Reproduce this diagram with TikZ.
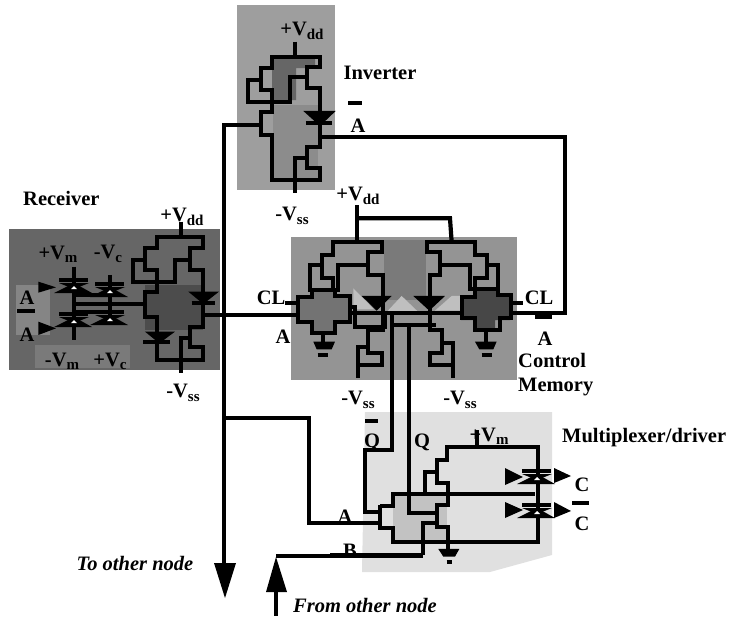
\documentclass[tikz,border=0pt]{standalone}
\usepackage{fontspec}
\setmainfont{Liberation Serif}
\newcommand{\vsub}[2]{\textbf{#1V\raisebox{-.35ex}{\fontsize{15}{15}\selectfont #2}}}
\newcommand{\tgate}[2]{%
  \fill[black] (#1-15,#2+3) -- (#1+15,#2+3) -- (#1,#2+9) -- cycle;
  \fill[black] (#1-20,#2+13) -- (#1+18,#2+13) -- (#1,#2+3) -- cycle;
  \fill[white] (#1-3,#2+9) -- (#1+3,#2+9) -- (#1,#2+6) -- cycle;
  \draw[bar] (#1-15,#2) -- (#1+14,#2);}
\tikzset{
  wire/.style={line width=4.2pt,miter limit=10},
  bus/.style={line width=4.5pt},
  bar/.style={line width=4pt},
  lab/.style={font=\fontsize{20.5}{22}\selectfont\bfseries,inner sep=0pt,text=black},
  labit/.style={font=\fontsize{20.5}{22}\selectfont\bfseries\itshape,inner sep=0pt},
  tip/.style={fill=black}
}
\begin{document}
\begin{tikzpicture}[x=1pt,y=-1pt]
\useasboundingbox (0,0) rectangle (733,618);
% backgrounds
\fill[black!38] (237,5) rectangle (335,190);
\fill[black!60] (272,59) -- (315,59) -- (315,68) -- (296,68) -- (296,100) -- (272,100) -- cycle;
\fill[black!45] (273,105) rectangle (318,180);
\fill[black!60] (9,229) rectangle (220,370);
\fill[black!48] (16,285) -- (50,285) -- (50,335) -- (16,335) -- cycle;
\fill[black!52] (35,345) rectangle (130,368);
\fill[black!70] (145,285) rectangle (203,330);
\fill[black!42] (291,237) rectangle (517,380);
\fill[black!52] (384,240) rectangle (426,300);
\fill[black!12] (365,412) -- (552,412) -- (552,555) -- (490,572) -- (362,572) -- cycle;
\fill[black!24] (393,495) rectangle (447,541);
% control interior patches
\fill[black!55] (300,297) -- (312,297) -- (312,290) -- (333,290) -- (333,297) -- (349,297) -- (349,322) -- (335,322) -- (335,333) -- (312,333) -- (312,322) -- (298,322) -- cycle;
\fill[black!72] (461,297) -- (476,297) -- (476,288) -- (497,288) -- (497,297) -- (510,297) -- (510,320) -- (495,320) -- (495,331) -- (475,331) -- (475,320) -- (461,320) -- cycle;
\begin{scope}[shift={(270,190)},x=.3333pt,y=-.3333pt]
\fill[black!25] (395,318) -- (350,366) -- (445,366) -- cycle;
\fill[black!25] (545,318) -- (495,362) -- (572,362) -- (572,318) -- cycle;
\fill[black!25] (250,295) -- (312,358) -- (250,358) -- cycle;
\end{scope}
% labels under wires
\node[lab] (lvddtop) at (302,31) {\vsub{+}{dd}};
\node[lab] (linv) at (380,73) {Inverter};
\node[lab] (lavtop) at (358,126) {A};
\node[lab] (lvss1) at (292,216) {\vsub{-}{ss}};
\node[lab] (lvdd2) at (358,196) {\vsub{+}{dd}};
\node[lab,anchor=west] (lrec) at (23,198) {Receiver};
\node[lab] (lvdd3) at (182,217) {\vsub{+}{dd}};
\node[lab] (lvm1) at (58,254) {\vsub{+}{m}};
\node[lab] (lvc1) at (108,254) {\vsub{-}{c}};
\node[lab] (la1) at (27,298) {A};
\node[lab] (la2) at (27,335) {A};
\node[lab] (lvm2) at (62,361) {\vsub{-}{m}};
\node[lab] (lvc2) at (110,361) {\vsub{+}{c}};
\node[lab] (lvss2) at (183,393) {\vsub{-}{ss}};
\node[lab] (lcl1) at (271,298) {CL};
\node[lab] (la3) at (283,337) {A};
\node[lab] (lvss3) at (358,400) {\vsub{-}{ss}};
\node[lab] (lvss4) at (460,400) {\vsub{-}{ss}};
\node[lab] (lcl2) at (539,298) {CL};
\node[lab] (la4) at (545,339) {A};
\node[lab,anchor=west] (lcm1) at (518,360) {Control};
\node[lab,anchor=west] (lcm2) at (518,387) {Memory};
\node[lab] (lq1) at (372,442) {Q};
\node[lab] (lq2) at (422,442) {Q};
\node[lab] (lvm3) at (489,436) {\vsub{+}{m}};
\node[lab,anchor=west] (lmux) at (562,438) {Multiplexer/driver};
\node[lab] (lc1) at (582,485) {C};
\node[lab] (lc2) at (582,524) {C};
\node[lab] (la5) at (345,517) {A};
\node[lab] (lb) at (350,551) {B};
\node[labit] (lto) at (135,563) {To other node};
\node[labit] (lfrom) at (365,605) {From other node};
% overbars
\draw[bar] (348,103) -- (362,103);
\draw[bar] (17,311) -- (35,311);
\draw[bar] (535,317) -- (552,317);
\draw[bar] (365,421) -- (378,421);
\draw[bar] (572,503) -- (589,503);
% main bus and arrows
\draw[bus] (261,125) -- (224,125) -- (224,566);
\fill[tip] (225,598) -- (214,563) -- (236,563) -- cycle;
\draw[wire] (224,418) -- (309,418) -- (309,523) -- (380,523);
\draw[wire] (423,556) -- (276,556);
\fill[tip] (276,557) -- (266,592) -- (287,592) -- cycle;
\draw[bus] (276,590) -- (276,616);
% inverter
\begin{scope}[shift={(220,0)},x=.3333pt,y=-.3333pt]
\draw[wire] (225,125) -- (225,170);
\draw[wire] (122,240) -- (85,240) -- (85,305) -- (210,305) -- (210,232) -- (262,232);
\draw[wire] (155,305) -- (155,335) -- (122,335) -- (122,405) -- (155,405) -- (155,540) -- (300,540) -- (300,505) -- (262,505) -- (262,440) -- (300,440) -- (300,265) -- (262,265) -- (262,200) -- (300,200) -- (300,170) -- (155,170) -- (155,205) -- (122,205) -- (122,270) -- (155,270) -- (155,305);
\draw[wire] (262,475) -- (225,475) -- (225,580);
\draw[wire] (300,411) -- (1035,411) -- (1035,938) -- (870,938);
\fill (250,333) -- (347,333) -- (300,378) -- cycle;
\draw[bar] (258,370) -- (335,370);
\end{scope}
% receiver
\begin{scope}[shift={(0,210)},x=.3333pt,y=-.3333pt]
\draw[wire] (543,35) -- (543,80);
\draw[wire] (435,150) -- (400,150) -- (400,215) -- (525,215) -- (525,150) -- (570,150);
\draw[wire] (470,215) -- (470,245) -- (435,245) -- (435,320) -- (470,320) -- (470,450) -- (610,450) -- (610,410) -- (570,410) -- (570,350) -- (610,350) -- (610,180) -- (570,180) -- (570,115) -- (610,115) -- (610,80) -- (470,80) -- (470,115) -- (435,115) -- (435,180) -- (470,180) -- (470,215);
\draw[wire] (570,385) -- (543,385) -- (543,490);
\draw[wire] (610,315) -- (890,315);
\fill (565,245) -- (657,245) -- (610,282) -- cycle;
\draw[bar] (575,280) -- (645,280);
\fill (435,365) -- (525,365) -- (478,400) -- cycle;
\draw[bar] (430,395) -- (510,395);
% inputs
\draw[wire] (222,170) -- (222,390);
\draw[wire] (330,195) -- (330,345);
\draw[wire] (222,255) -- (330,255);
\draw[wire] (222,282) -- (435,282);
\draw[wire] (222,306) -- (330,306);
\fill (115,215) -- (115,248) -- (168,232) -- cycle;
\fill (115,335) -- (115,375) -- (168,355) -- cycle;
\end{scope}
\tgate{74}{280}
\tgate{110}{284}
\tgate{74}{314}
\tgate{110}{312}
% control memory
\begin{scope}[shift={(270,190)},x=.3333pt,y=-.3333pt]
\draw[wire] (262,45) -- (262,155);
\draw[wire] (262,85) -- (540,85) -- (545,155);
% left
\draw[wire] (155,225) -- (120,225) -- (120,300) -- (205,300) -- (205,225) -- (295,225);
\draw[wire] (190,300) -- (190,265) -- (155,265) -- (155,195) -- (190,195) -- (190,155) -- (335,155) -- (335,185) -- (295,185) -- (295,255) -- (340,255) -- (340,420) -- (295,420) -- (295,490) -- (335,490) -- (335,525) -- (265,525) -- (265,565);
\draw[wire] (295,470) -- (265,470) -- (265,525);
\draw[wire] (125,300) -- (125,320) -- (85,320) -- (85,395) -- (125,395) -- (125,430) -- (195,430) -- (195,395) -- (240,395) -- (240,318) -- (195,318) -- (195,300);
\draw[wire] (160,430) -- (160,458);
\draw[wire] (45,340) -- (85,340);
\draw[wire] (0,375) -- (85,375);
\fill (130,455) -- (195,455) -- (185,478) -- (140,478) -- cycle;
\draw[bar] (143,495) -- (175,495);
\draw[wire] (240,350) -- (255,350) -- (255,412) -- (345,412) -- (345,365);
% right
\draw[wire] (650,225) -- (685,225) -- (685,298) -- (600,298) -- (600,225) -- (510,225);
\draw[wire] (615,298) -- (615,265) -- (650,265) -- (650,195) -- (615,195) -- (615,155) -- (470,155) -- (470,185) -- (510,185) -- (510,255) -- (480,255) -- (480,420) -- (515,420) -- (515,490) -- (480,490) -- (480,525) -- (548,525) -- (548,565);
\draw[wire] (515,460) -- (548,460) -- (548,525);
\draw[wire] (615,298) -- (615,320) -- (575,320) -- (575,385) -- (615,385) -- (615,420) -- (690,420) -- (690,385) -- (722,385) -- (722,315) -- (685,315) -- (685,298);
\draw[wire] (648,420) -- (648,458);
\draw[wire] (722,338) -- (760,338);
\draw[wire] (722,368) -- (885,368);
\fill (615,455) -- (680,455) -- (670,478) -- (628,478) -- cycle;
\draw[bar] (635,495) -- (665,495);
% centre
\draw[wire] (240,370) -- (575,370);
\draw[wire] (367,370) -- (367,660);
\draw[wire] (370,405) -- (498,405);
\draw[wire] (418,405) -- (418,660);
\draw[wire] (480,370) -- (480,420);
\fill (275,318) -- (365,318) -- (320,362) -- cycle;
\fill (430,318) -- (525,318) -- (478,362) -- cycle;
\end{scope}
% multiplexer
\begin{scope}[shift={(330,400)},x=.3333pt,y=-.3333pt]
\draw[wire] (187,30) -- (187,150) -- (105,150) -- (105,335) -- (150,335);
\draw[wire] (238,30) -- (238,340) -- (320,340);
\draw[wire] (440,90) -- (440,145);
\draw[wire] (150,315) -- (150,385) -- (190,385) -- (190,425) -- (625,425) -- (625,142) -- (350,142) -- (350,180) -- (320,180) -- (320,250) -- (355,250) -- (355,315) -- (320,315) -- (320,380) -- (355,380) -- (355,450);
\draw[wire] (150,318) -- (190,318) -- (190,282) -- (615,282);
\draw[wire] (285,282) -- (285,215) -- (320,215);
\draw[wire] (280,465) -- (280,370) -- (320,370);
\draw[wire] (0,466) -- (280,466);
\fill (325,447) -- (388,447) -- (375,470) -- (340,470) -- cycle;
\draw[bar] (350,485) -- (365,485);
\end{scope}
\tgate{537}{471}
\tgate{537}{505}
\fill (505,468) -- (505,485) -- (523,477) -- cycle;
\fill (505,502) -- (505,518) -- (523,510) -- cycle;
\fill (554,468) -- (554,483) -- (571,476) -- cycle;
\fill (554,502) -- (554,518) -- (571,511) -- cycle;
\end{tikzpicture}
\end{document}
